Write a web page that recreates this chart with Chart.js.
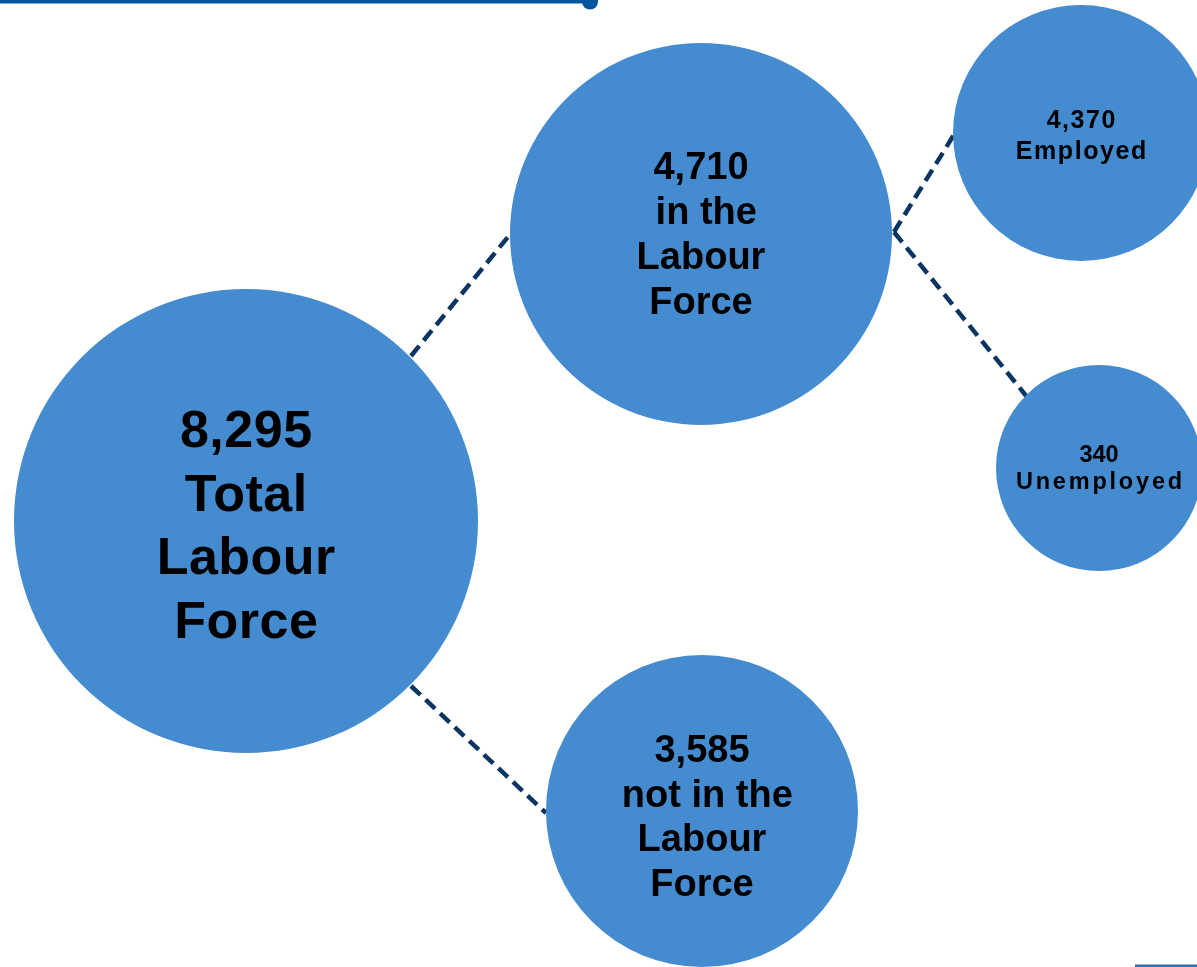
<!DOCTYPE html>
<html>
<head>
<meta charset="utf-8">
<script src="https://cdn.jsdelivr.net/npm/chart.js@4/dist/chart.umd.min.js"></script>
<style>
  body { margin: 0; background: #ffffff; }
  #wrap { width: 1197px; height: 967px; }
</style>
</head>
<body>
<div id="wrap"><canvas id="chart" width="1197" height="967"></canvas></div>
<script>
// data
const categories = ['Total Labour Force', 'in the Labour Force', 'Employed', 'Unemployed', 'not in the Labour Force'];
const values = [8295, 4710, 4370, 340, 3585];
const labelLines = [
    ['Total', 'Labour', 'Force'],
    [' in the', 'Labour', 'Force'],
    ['Employed'],
    ['Unemployed'],
    [' not in the', 'Labour', 'Force'],
];

// layout (pixel space of the 1197x967 canvas); base = first baseline, lh = line step
const nodes = [
    { x: 246, y: 521, r: 232, font: 52, base: 447, lh: 63.5, ls: 0.5, numLs: 0.5 },
    { x: 701, y: 234, r: 191, font: 38, base: 179, lh: 45, ls: 0, numLs: 0 },
    { x: 1081, y: 133, r: 128, font: 25, base: 128, lh: 31, ls: 1.6, numLs: 1.5 },
    { x: 1099, y: 468, r: 103, font: 23.5, base: 462, lh: 27, ls: 2.8, numLs: 0 },
    { x: 702, y: 811, r: 156, font: 38, base: 762, lh: 44.5, ls: 0, numLs: 0 },
];
const links = [
    [{ x: 411, y: 356 }, { x: 512, y: 232 }],
    [{ x: 411, y: 686 }, { x: 546, y: 813 }],
    [{ x: 894, y: 232 }, { x: 955, y: 133 }],
    [{ x: 894, y: 232 }, { x: 1027, y: 397 }],
];

const fmt = v => v.toLocaleString('en-US');

const labelPlugin = {
    id: 'bubbleLabels',
    afterDatasetsDraw(chart) {
        const { ctx, scales: { x, y } } = chart;
        ctx.save();
        ctx.fillStyle = '#000000';
        ctx.textAlign = 'center';
        ctx.textBaseline = 'alphabetic';
        nodes.forEach((n, i) => {
            const lines = [fmt(values[i]), ...labelLines[i]];
            const cx = x.getPixelForValue(n.x);
            ctx.font = `bold ${n.font}px Arial, "Liberation Sans", sans-serif`;
            lines.forEach((t, k) => {
                const ls = k === 0 ? n.numLs : n.ls;
                ctx.letterSpacing = ls + 'px';
                ctx.fillText(t, cx + ls / 2, y.getPixelForValue(n.base + k * n.lh));
            });
        });
        ctx.restore();
    }
};

const linkSets = links.map(l => ({
    type: 'line',
    data: l,
    borderColor: '#0a3562',
    borderWidth: 4.5,
    borderDash: [13, 7],
    pointRadius: 0,
    fill: false,
    clip: false,
    order: 3,
}));

new Chart(document.getElementById('chart'), {
    type: 'bubble',
    data: {
        labels: categories,
        datasets: [
            {
                label: 'Labour force',
                data: nodes.map(n => ({ x: n.x, y: n.y, r: n.r })),
                backgroundColor: '#458bcf',
                borderWidth: 0,
                hoverRadius: 0,
                clip: false,
                order: 1,
            },
            ...linkSets,
            {
                type: 'line',
                data: [{ x: 0, y: 1.5 }, { x: 590, y: 1.5 }],
                borderColor: '#00559e',
                borderWidth: 4,
                pointRadius: [0, 8],
                pointBackgroundColor: '#00559e',
                pointBorderWidth: 0,
                clip: false,
                order: 2,
            },
            {
                type: 'line',
                data: [{ x: 1135, y: 966 }, { x: 1197, y: 966 }],
                borderColor: '#2f6fb2',
                borderWidth: 3,
                pointRadius: 0,
                clip: false,
                order: 2,
            },
        ]
    },
    options: {
        responsive: false,
        animation: false,
        layout: { padding: 0, autoPadding: false },
        plugins: { legend: { display: false }, tooltip: { enabled: false } },
        scales: {
            x: { type: 'linear', min: 0, max: 1197, display: false },
            y: { type: 'linear', min: 0, max: 967, reverse: true, display: false },
        }
    },
    plugins: [labelPlugin]
});
</script>
</body>
</html>
